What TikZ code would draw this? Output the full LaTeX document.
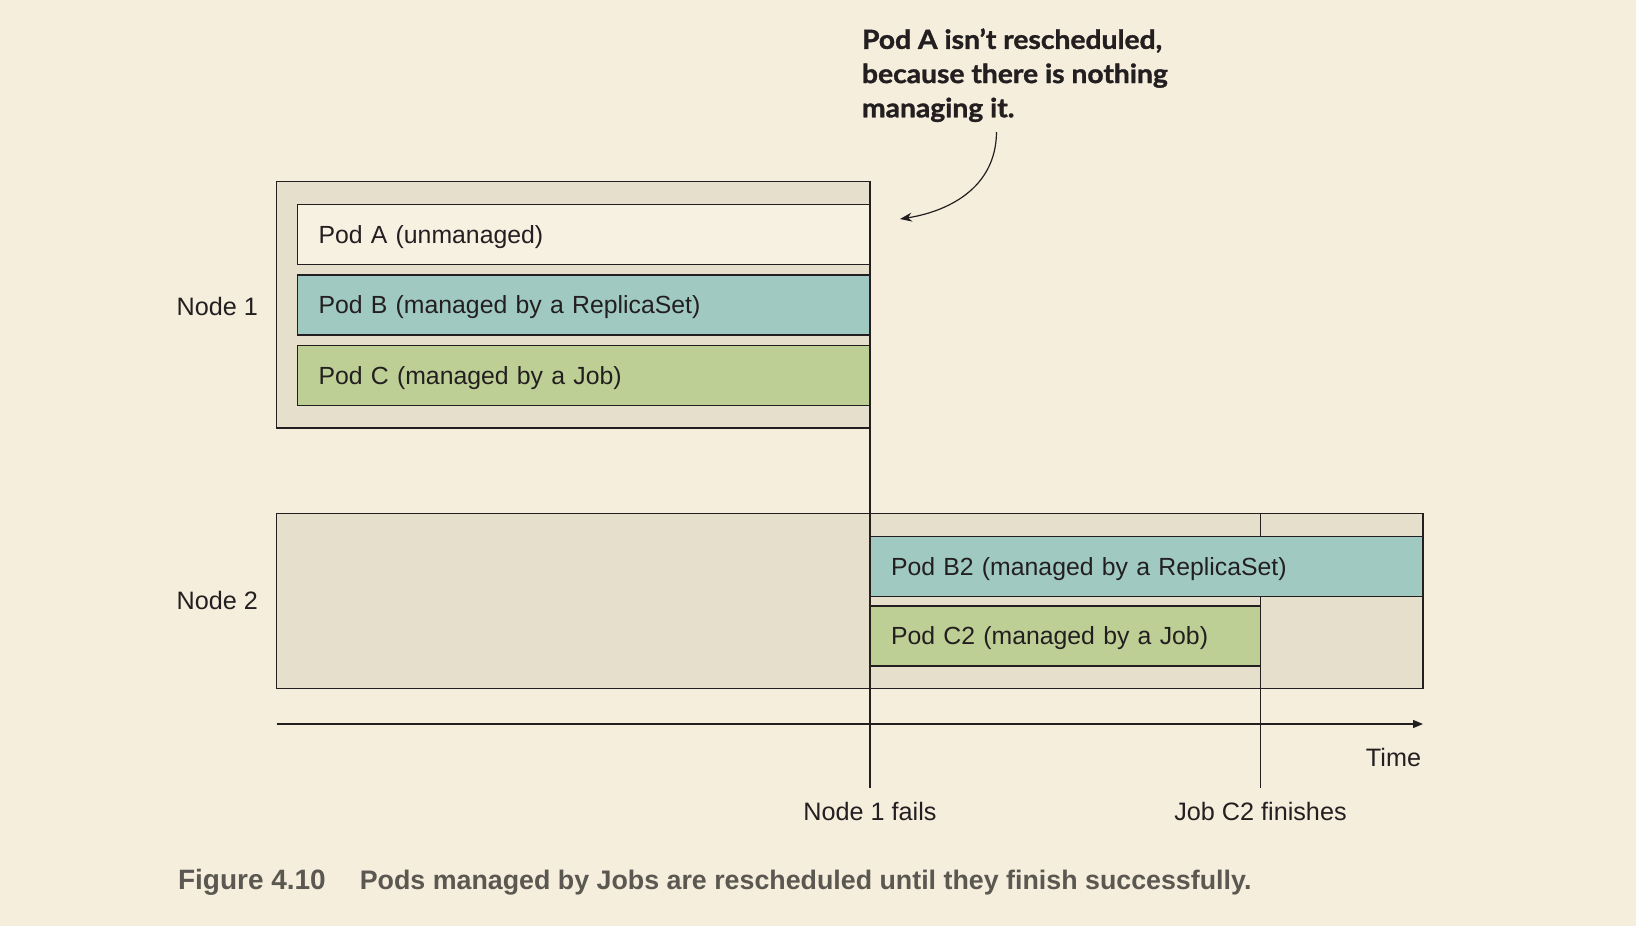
\documentclass[tikz,border=0pt]{standalone}
\usepackage{fontspec}
\setmainfont{Liberation Sans}
\newfontfamily\annfont{Lato}[FakeStretch=1.07,FakeBold=1.3]
\newfontfamily\capfont{Liberation Sans}
\usetikzlibrary{arrows.meta}
\definecolor{bgc}{HTML}{F5EEDD}
\definecolor{nodefill}{HTML}{E6DFCC}
\definecolor{podafill}{HTML}{F7F1E2}
\definecolor{podbfill}{HTML}{A0CAC1}
\definecolor{podcfill}{HTML}{BDCF95}
\definecolor{inkc}{HTML}{231F20}
\definecolor{capc}{HTML}{5B5851}
\begin{document}
\begin{tikzpicture}[x=0.5pt,y=-0.5pt,
  every node/.style={inner sep=0pt, outer sep=0pt},
  hostbox/.style={draw=inkc, line width=0.9pt, fill=nodefill, anchor=north west},
  podbox/.style={draw=inkc, line width=0.9pt, anchor=north west, inner xsep=10.5pt,
     align=left, font=\fontsize{12.4}{15}\selectfont, text=inkc, minimum height=30pt, text depth=0pt},
  lbl/.style={font=\fontsize{12.6}{15}\selectfont, text=inkc},
  vline/.style={draw=inkc, line width=0.6pt},
]
\useasboundingbox[fill=bgc] (0,0) rectangle (1636,926);
% host boxes
\node[hostbox, minimum width=296.75pt, minimum height=123.25pt] (n1) at (276.5,181.5) {};
\node[hostbox, minimum width=573.25pt, minimum height=87.5pt] (n2) at (276.5,513.5) {};
% time lines
\coordinate (fail) at (870,788);
\coordinate (fin) at (1260.5,788);
\coordinate (fintop) at (1260.5,513.5);
\draw[vline] (n1.north east) -- (fail);
\draw[vline] (fintop) -- (fin);
% pods on Node 1
\node[podbox, fill=podafill, text width=265.25pt] (pa) at (297.5,204.5) {Pod A (unmanaged)};
\node[podbox, fill=podbfill, text width=265.25pt] (pb) at (297.5,275) {Pod B (managed by a ReplicaSet)};
\node[podbox, fill=podcfill, text width=265.25pt] (pc) at (297.5,345.5) {Pod C (managed by a Job)};
% pods on Node 2
\node[podbox, fill=podbfill, text width=255.5pt] (pb2) at (870,536.5) {Pod B2 (managed by a ReplicaSet)};
\node[podbox, fill=podcfill, text width=174.25pt] (pc2) at (870,606) {Pod C2 (managed by a Job)};
% labels
\node[lbl, anchor=east] (l1) at (258,306) {Node 1};
\node[lbl, anchor=east] (l2) at (258,600.5) {Node 2};
\node[lbl, anchor=center] (failt) at (870,811) {Node 1 fails};
\node[lbl, anchor=center] (fint) at (1260.5,811) {Job C2 finishes};
% axis
\coordinate (ax0) at (276.5,724);
\coordinate (ax1) at (1423,724);
\draw[vline, -{Triangle[length=5pt,width=4pt]}] (ax0) -- (ax1);
\node[lbl, anchor=east] (timet) at (1421,757) {Time};
% annotation
\node[anchor=north west, align=left, font=\annfont\bfseries\fontsize{13.2}{17.1}\selectfont, text=inkc] (ann) at (862,28.5) {Pod A isn’t rescheduled,\\because there is nothing\\managing it.};
\coordinate (annstart) at (996.5,132);
\coordinate (anntip) at (900,219);
\draw[vline, -{Stealth[length=6pt,width=4.5pt]}] (annstart) .. controls (996,190) and (945,212) .. (anntip);
% caption
\node[anchor=base west, font=\capfont\bfseries\fontsize{13.4}{16}\selectfont, text=capc] (cap) at (178,889) {{\fontsize{14}{16}\selectfont Figure 4.10}\hspace{17pt}Pods managed by Jobs are rescheduled until they finish successfully.};
\end{tikzpicture}
\end{document}
